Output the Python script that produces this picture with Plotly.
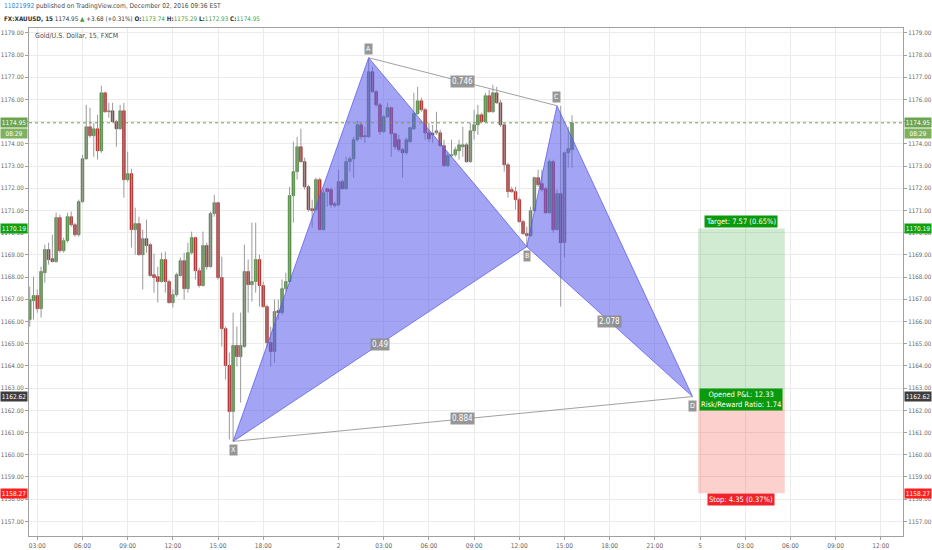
import plotly.graph_objects as go

# ---------------- data ----------------
opens = [1166.09,1166.94,1167.17,1166.58,1168.20,1169.24,1168.83,1168.70,1170.68,1169.19,
         1169.64,1170.72,1170.36,1169.91,1171.40,1173.33,1174.77,1174.37,1174.68,1173.69,
         1176.30,1175.45,1175.49,1175.00,1174.68,1175.49,1172.39,1172.66,1170.14,1170.41,
         1169.01,1169.73,1169.46,1168.11,1168.02,1167.80,1168.79,1167.80,1166.85,1167.21,
         1168.07,1168.74,1167.48,1169.10,1169.78,1168.29,1167.62,1169.42,1168.47,1170.86,
         1171.35,1167.98,1165.68,1164.02,1161.95,1164.92,1164.42,1164.87,1168.25,1167.66,
         1167.80,1168.79,1167.62,1166.67,1165.05,1164.65,1166.49,1166.40,1167.48,1167.80,
         1171.67,1172.75,1173.87,1173.20,1172.07,1171.08,1171.04,1172.39,1170.14,1171.98,
         1171.94,1171.22,1171.26,1172.30,1171.98,1173.20,1173.33,1174.19,1174.86,1174.32,
         1174.32,1177.25,1176.35,1175.76,1174.55,1175.22,1175.63,1174.46,1174.19,1173.74,
         1173.60,1174.10,1174.68,1175.36,1175.94,1175.54,1174.50,1174.48,1174.50,1174.50,
         1173.92,1173.02,1173.47,1173.51,1173.69,1173.87,1173.96,1173.20,1174.59,1174.86,
         1175.31,1175.00,1176.17,1175.45,1176.30,1175.85,1174.86,1173.06,1171.94,1171.85,
         1171.49,1170.50,1169.96,1169.87,1170.99,1172.48,1172.21,1171.98,1170.90,1173.20,
         1170.14,1171.76,1169.55,1173.60,1173.74]
highs = [1167.57,1168.02,1167.44,1168.47,1169.46,1169.55,1169.91,1170.90,1170.81,1169.78,
         1170.90,1170.95,1170.45,1171.49,1173.51,1175.76,1175.63,1174.95,1175.31,1176.62,
         1176.35,1175.85,1175.85,1175.09,1175.76,1175.85,1173.65,1172.88,1171.13,1170.72,
         1170.14,1170.59,1169.55,1169.06,1168.47,1169.10,1169.15,1167.89,1167.44,1168.20,
         1168.88,1169.10,1169.55,1170.05,1169.82,1168.43,1170.05,1169.55,1170.95,1171.71,
         1171.40,1168.92,1165.77,1164.60,1166.40,1165.77,1166.40,1169.46,1168.79,1170.45,
         1170.45,1169.01,1167.80,1166.76,1165.77,1166.99,1166.99,1167.89,1168.20,1172.07,
         1174.10,1174.32,1174.68,1173.38,1172.16,1171.49,1172.48,1172.48,1171.94,1172.03,
         1172.03,1171.40,1172.84,1172.39,1173.42,1173.42,1174.32,1175.04,1174.95,1174.77,
         1177.88,1177.47,1176.44,1175.85,1175.31,1175.85,1175.67,1174.50,1174.41,1173.83,
         1174.28,1174.77,1176.30,1176.57,1176.08,1175.63,1174.95,1174.86,1175.45,1174.64,
         1174.19,1173.60,1174.19,1173.87,1174.19,1174.77,1174.05,1174.95,1175.54,1175.76,
         1175.40,1176.30,1176.44,1176.66,1176.57,1175.99,1174.95,1173.15,1172.07,1172.07,
         1171.58,1170.59,1170.27,1171.17,1172.52,1172.84,1172.84,1172.07,1173.29,1173.29,
         1171.94,1175.72,1173.65,1174.77,1175.29]
lows = [1165.77,1166.09,1166.40,1166.18,1167.75,1168.56,1168.65,1168.65,1169.10,1169.10,
        1169.55,1170.27,1169.82,1169.82,1171.35,1173.29,1174.28,1173.42,1173.29,1173.60,
        1175.40,1175.18,1174.95,1173.87,1174.64,1171.58,1172.30,1169.33,1169.01,1168.97,
        1167.44,1169.10,1168.02,1167.30,1166.85,1167.75,1167.30,1166.81,1166.63,1167.12,
        1168.02,1166.99,1167.30,1169.01,1167.89,1167.53,1167.57,1168.34,1168.43,1170.72,
        1167.89,1164.87,1163.39,1160.69,1160.60,1163.97,1162.35,1164.83,1166.40,1166.90,
        1167.30,1166.67,1166.63,1164.83,1163.97,1164.15,1166.09,1166.31,1167.35,1167.75,
        1170.45,1172.39,1173.15,1171.94,1170.95,1170.23,1170.95,1170.10,1170.09,1171.17,
        1171.13,1171.13,1171.17,1171.94,1171.94,1172.75,1172.48,1174.10,1174.19,1174.05,
        1174.28,1176.30,1175.67,1174.41,1174.50,1175.18,1173.42,1173.74,1173.65,1172.48,
        1173.51,1174.05,1174.64,1175.31,1175.45,1174.19,1174.10,1174.05,1174.41,1173.87,
        1172.97,1172.97,1173.42,1173.42,1173.29,1173.42,1173.15,1173.15,1174.19,1174.41,
        1174.95,1174.95,1175.40,1175.40,1175.81,1174.77,1172.75,1171.58,1171.80,1171.04,
        1170.45,1169.91,1169.37,1169.82,1170.95,1172.07,1171.85,1170.86,1170.86,1170.00,
        1170.09,1166.67,1168.88,1172.93,1172.93]
closes = [1166.99,1167.17,1166.58,1168.25,1169.24,1168.79,1168.70,1170.68,1169.19,1169.64,
          1170.72,1170.36,1169.91,1171.40,1173.33,1174.77,1174.37,1174.68,1173.69,1176.30,
          1175.45,1175.49,1175.00,1174.68,1175.49,1172.39,1172.66,1170.14,1170.41,1169.01,
          1169.73,1169.42,1168.07,1167.98,1167.80,1168.79,1167.80,1166.85,1167.21,1168.11,
          1168.74,1167.48,1169.10,1169.78,1168.29,1167.62,1169.42,1168.47,1170.86,1171.35,
          1167.98,1165.68,1164.02,1161.95,1164.92,1164.42,1164.92,1168.25,1167.66,1167.80,
          1168.79,1167.62,1166.67,1165.05,1164.65,1166.45,1166.40,1167.48,1167.80,1171.67,
          1172.75,1173.87,1173.20,1172.07,1171.04,1170.99,1172.39,1170.14,1171.80,1171.85,
          1171.26,1171.31,1172.30,1171.98,1173.20,1173.33,1174.19,1174.86,1174.32,1174.37,
          1177.25,1176.35,1175.76,1174.55,1175.22,1175.63,1174.46,1173.87,1173.74,1173.60,
          1174.19,1174.73,1175.36,1175.94,1175.54,1174.50,1174.23,1174.41,1174.59,1173.92,
          1173.02,1173.47,1173.51,1173.74,1173.96,1173.96,1173.20,1174.59,1174.86,1175.31,
          1175.00,1176.17,1175.45,1176.30,1175.85,1174.86,1173.06,1171.85,1171.85,1171.49,
          1170.50,1169.96,1169.87,1170.99,1172.48,1172.16,1171.94,1170.90,1173.20,1170.14,
          1171.76,1169.55,1173.60,1173.78,1174.95]
bar_idx = list(range(len(opens)))

tick_pos = [2, 14, 26, 38, 50, 62, 82, 94, 106, 118, 130, 142, 154, 166, 178, 190, 202, 214, 226]
tick_text = ["03:00", "06:00", "09:00", "12:00", "15:00", "18:00", "2", "03:00", "06:00",
             "09:00", "12:00", "15:00", "18:00", "21:00", "5", "03:00", "06:00", "09:00", "12:00"]

# XABCD pattern
pat_names = ["X", "A", "B", "C", "D"]
pat_x = [54, 90, 132, 140, 176]
pat_y = [1160.60, 1177.88, 1169.37, 1175.72, 1162.62]
ratio_xb, ratio_bd, ratio_ac, ratio_xd = "0.49", "2.078", "0.746", "0.884"

# long position tool
pos_x = [177.5, 200.5]
entry_price = 1162.62
target_price = 1170.19
stop_price = 1158.27
last_price = closes[-1]
countdown = "08:29"

x_range = [-0.2, 231.9]
y_range = [1156.34, 1179.22]

FONT = "Liberation Sans Narrow, Arial Narrow, DejaVu Sans Condensed, Liberation Sans, Arial, sans-serif"
UP, UP_EDGE = "#5a9c46", "#3e7030"
DN, DN_EDGE = "#cc2a2a", "#8f1c1c"
WICK = "#9a9a9a"
PAT_FILL = "rgba(90,90,235,0.55)"
PAT_LINE = "rgba(90,90,235,0.75)"
LABEL_BG = "rgba(140,140,140,0.9)"

fig = go.Figure()

# wicks
wx, wy = [], []
for i, h, l in zip(bar_idx, highs, lows):
    wx += [i, i, None]
    wy += [l, h, None]
fig.add_trace(go.Scatter(x=wx, y=wy, mode="lines", line=dict(color=WICK, width=1),
                         hoverinfo="skip", showlegend=False))

# bodies
base = [min(o, c) for o, c in zip(opens, closes)]
hgt = [max(abs(c - o), 0.04) for o, c in zip(opens, closes)]
fill = [UP if c >= o else DN for o, c in zip(opens, closes)]
edge = [UP_EDGE if c >= o else DN_EDGE for o, c in zip(opens, closes)]
fig.add_trace(go.Bar(x=bar_idx, y=hgt, base=base, width=0.72,
                     marker=dict(color=fill, line=dict(color=edge, width=0.6)),
                     hoverinfo="skip", showlegend=False))

# pattern triangles
for tri in ([0, 1, 2], [2, 3, 4]):
    xs = [pat_x[k] for k in tri] + [pat_x[tri[0]]]
    ys = [pat_y[k] for k in tri] + [pat_y[tri[0]]]
    fig.add_trace(go.Scatter(x=xs, y=ys, mode="lines", fill="toself", fillcolor=PAT_FILL,
                             line=dict(color=PAT_LINE, width=1), hoverinfo="skip",
                             showlegend=False))
# A-C and X-D lines
for a, b in ((1, 3), (0, 4)):
    fig.add_trace(go.Scatter(x=[pat_x[a], pat_x[b]], y=[pat_y[a], pat_y[b]], mode="lines",
                             line=dict(color="rgba(150,150,150,0.9)", width=1),
                             hoverinfo="skip", showlegend=False))

# last price dotted line (on right axis)
fig.add_trace(go.Scatter(x=x_range, y=[last_price, last_price], mode="lines", yaxis="y2",
                         line=dict(color="#6f9e3e", width=1, dash="dot"),
                         hoverinfo="skip", showlegend=False))

shapes = []
shapes.append(dict(type="rect", xref="x", yref="y", x0=pos_x[0], x1=pos_x[1],
                   y0=entry_price, y1=target_price, fillcolor="rgba(76,175,80,0.26)",
                   line=dict(width=0), layer="above"))
shapes.append(dict(type="rect", xref="x", yref="y", x0=pos_x[0], x1=pos_x[1],
                   y0=stop_price, y1=entry_price, fillcolor="rgba(244,67,54,0.25)",
                   line=dict(width=0), layer="above"))

ann = []

def mid(a, b):
    return (pat_x[a] + pat_x[b]) / 2, (pat_y[a] + pat_y[b]) / 2

for (a, b), txt in (((0, 2), ratio_xb), ((2, 4), ratio_bd), ((1, 3), ratio_ac), ((0, 4), ratio_xd)):
    mx, my = mid(a, b)
    ann.append(dict(x=mx, y=my, xref="x", yref="y", text=txt, showarrow=False,
                    bgcolor=LABEL_BG, borderpad=1, font=dict(color="white", size=8, family=FONT)))

above = {"A": 1, "C": 1, "X": -1, "B": -1, "D": -1}
for n, px_, py_ in zip(pat_names, pat_x, pat_y):
    ann.append(dict(x=px_, y=py_, xref="x", yref="y", text=n, showarrow=False,
                    yshift=9 * above[n], bgcolor=LABEL_BG, borderpad=1,
                    font=dict(color="white", size=7, family=FONT)))

pos_mid = sum(pos_x) / 2
reward = target_price - entry_price
risk = entry_price - stop_price
ann.append(dict(x=pos_mid, y=target_price, xref="x", yref="y", yanchor="bottom",
                text=f"Target: {reward:.2f} ({reward / entry_price * 100:.2f}%)",
                showarrow=False, bgcolor="#0b9a0b", borderpad=1,
                font=dict(color="white", size=7.5, family=FONT)))
ann.append(dict(x=pos_mid, y=stop_price, xref="x", yref="y", yanchor="top",
                text=f"Stop: {risk:.2f} ({risk / entry_price * 100:.2f}%)",
                showarrow=False, bgcolor="#f0222a", borderpad=1,
                font=dict(color="white", size=7.5, family=FONT)))
ann.append(dict(x=pos_mid, y=entry_price, xref="x", yref="y", yshift=-3,
                text=f"Opened P&L: {last_price - entry_price:.2f}<br>Risk/Reward Ratio: {reward / risk:.2f}",
                showarrow=False, bgcolor="#0b9a0b", borderpad=1,
                font=dict(color="white", size=7.5, family=FONT)))

# price tags on both axes
tags = [(last_price, "#6da44f"), (target_price, "#10a010"), (entry_price, "#3d3d3d"),
        (stop_price, "#ff1f1f")]
for price, col in tags:
    for side in (0, 1):
        ann.append(dict(x=side, xref="paper", y=price, yref="y", text=f"{price:.2f}",
                        xanchor="right" if side == 0 else "left", showarrow=False,
                        xshift=-1 if side == 0 else 1,
                        bgcolor=col, width=26, height=9, borderpad=0,
                        font=dict(color="white", size=6.5, family=FONT)))
for side in (0, 1):
    ann.append(dict(x=side, xref="paper", y=last_price, yref="y", yshift=-11, text=countdown,
                    xanchor="right" if side == 0 else "left", showarrow=False,
                    xshift=-1 if side == 0 else 1,
                    bgcolor="#7fb25e", width=26, height=9, borderpad=0,
                    font=dict(color="white", size=6.5, family=FONT)))

# header (positions in pixels converted to paper fractions)
W, L = 874, 29
H, B = 508, 536
def px(xp):
    return (xp - L) / W
def py(yp):
    return (B - yp) / H

ann.append(dict(x=px(2), y=py(6), xref="paper", yref="paper", xanchor="left", yanchor="middle",
                showarrow=False, align="left",
                text="<span style='color:#2f86d6'>11021992</span> published on TradingView.com, December 02, 2016 09:36 EST",
                font=dict(color="#4a4a4a", size=6.6, family=FONT)))
G = "#3d9c3d"
ann.append(dict(x=px(2), y=py(18), xref="paper", yref="paper", xanchor="left", yanchor="middle",
                showarrow=False, align="left",
                text=("<b>FX:XAUUSD, 15</b> 1174.95 <span style='color:%s'>▲</span> +3.68 (+0.31%%) "
                      "<b>O:</b><span style='color:%s'>1173.74</span> <b>H:</b><span style='color:%s'>1175.29</span> "
                      "<b>L:</b><span style='color:%s'>1172.93</span> <b>C:</b><span style='color:%s'>1174.95</span>")
                     % (G, G, G, G, G),
                font=dict(color="#333333", size=6.3, family=FONT)))
ann.append(dict(x=px(33), y=py(36), xref="paper", yref="paper", xanchor="left", yanchor="middle",
                showarrow=False, text="Gold/U.S. Dollar, 15, FXCM",
                font=dict(color="#4a4a4a", size=7, family=FONT)))

AX = "#a0a0a0"
GRID = "#ebebeb"
fig.update_layout(
    width=932, height=550, margin=dict(l=29, r=29, t=28, b=14, autoexpand=False),
    paper_bgcolor="white", plot_bgcolor="white", showlegend=False,
    barmode="overlay", font=dict(family=FONT, size=7, color="#666"),
    shapes=shapes, annotations=ann,
    xaxis=dict(range=x_range, tickmode="array", tickvals=tick_pos, ticktext=tick_text,
               showgrid=True, gridcolor=GRID, zeroline=False, showline=True, linecolor=AX,
               mirror=True, ticks="outside", ticklen=3, tickcolor=AX, automargin=False,
               tickfont=dict(size=6.5, color="#666", family=FONT), fixedrange=True),
    yaxis=dict(range=y_range, tickmode="linear", tick0=1157, dtick=1, tickformat=".2f",
               showgrid=True, gridcolor=GRID, zeroline=False, showline=True, linecolor=AX,
               mirror=True, ticks="outside", ticklen=3, tickcolor=AX, side="left",
               automargin=False, tickfont=dict(size=6.2, color="#666", family=FONT)),
    yaxis2=dict(range=y_range, overlaying="y", side="right", tickmode="linear", tick0=1157,
                dtick=1, tickformat=".2f", showgrid=False, zeroline=False, showline=True,
                linecolor=AX, ticks="outside", ticklen=3, tickcolor=AX, automargin=False,
                tickfont=dict(size=6.2, color="#666", family=FONT)),
)

fig.write_html("out.html", config={"displayModeBar": False},
               post_script="document.body.style.margin='0';document.body.style.padding='0';"
                           "document.body.style.overflow='hidden';")
